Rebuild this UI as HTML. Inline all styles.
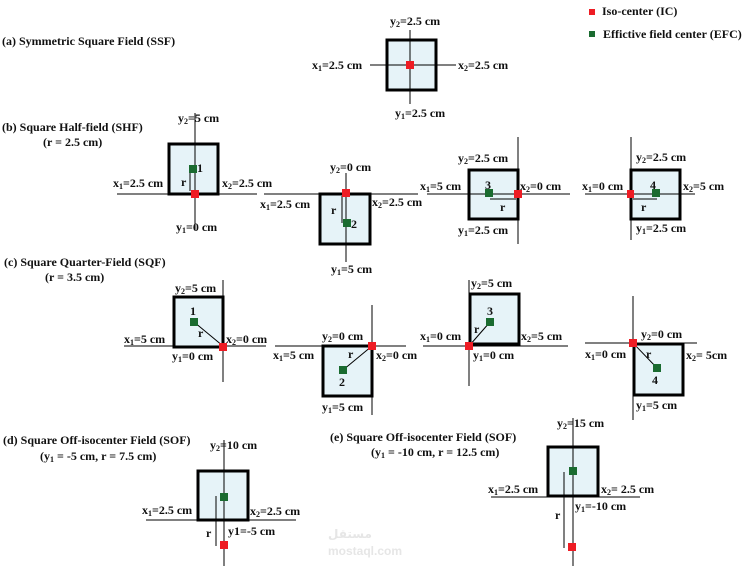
<!DOCTYPE html>
<html><head><meta charset="utf-8"><style>
html,body{margin:0;padding:0;background:#fff;}
svg{display:block;}
text{font-family:"Liberation Serif",serif;font-weight:bold;font-size:12px;fill:#111;}
.s{font-size:8px;}
.wm{font-family:"Liberation Sans","DejaVu Sans",sans-serif;fill:#e6e6e6;font-weight:bold;}
</style></head><body>
<svg width="747" height="571" viewBox="0 0 747 571" xmlns="http://www.w3.org/2000/svg">
<text x="328" y="538" class="wm" font-size="34">مستقل</text>
<text x="328" y="555" class="wm" font-size="13">mostaql.com</text>
<g fill="#e6f3f8" stroke="#000" stroke-width="3">
<rect x="387" y="40" width="49" height="50"/>
<rect x="169" y="144" width="49" height="50"/>
<rect x="320" y="194" width="50" height="50"/>
<rect x="469" y="170" width="49" height="49"/>
<rect x="631" y="170" width="49" height="49"/>
<rect x="174" y="297" width="49" height="50"/>
<rect x="323" y="346" width="49" height="50"/>
<rect x="470" y="294" width="49" height="50"/>
<rect x="634" y="344" width="49" height="51"/>
<rect x="198" y="471" width="50" height="49"/>
<rect x="548" y="447" width="50" height="49"/>
</g>
<g stroke="#000" stroke-width="1">
<line x1="370" y1="65" x2="456" y2="65"/><line x1="410" y1="30" x2="410" y2="104"/>
<line x1="117" y1="194" x2="257" y2="194"/><line x1="195" y1="113" x2="195" y2="230"/><line x1="190" y1="169" x2="190" y2="191"/>
<line x1="264" y1="194" x2="418" y2="194"/><line x1="346" y1="173" x2="346" y2="262"/><line x1="342" y1="196" x2="342" y2="223"/>
<line x1="427" y1="194" x2="570" y2="194"/><line x1="518" y1="137" x2="518" y2="244"/><line x1="490" y1="199" x2="516" y2="199"/>
<line x1="585" y1="194" x2="695" y2="194"/><line x1="631" y1="137" x2="631" y2="240"/><line x1="633" y1="199" x2="657" y2="199"/>
<line x1="124" y1="346" x2="266" y2="346"/><line x1="223" y1="280" x2="223" y2="382"/><line x1="194" y1="322" x2="223" y2="346"/>
<line x1="275" y1="346" x2="406" y2="346"/><line x1="372" y1="305" x2="372" y2="415"/><line x1="343" y1="370" x2="372" y2="346"/>
<line x1="423" y1="346" x2="568" y2="346"/><line x1="469" y1="280" x2="469" y2="386"/><line x1="469" y1="346" x2="490" y2="322"/>
<line x1="585" y1="343" x2="697" y2="343"/><line x1="633" y1="296" x2="633" y2="420"/><line x1="633" y1="343" x2="657" y2="368"/>
<line x1="146" y1="520" x2="296" y2="520"/><line x1="224" y1="440" x2="224" y2="566"/><line x1="216" y1="496" x2="216" y2="546"/>
<line x1="491" y1="497" x2="640" y2="497"/><line x1="573" y1="418" x2="573" y2="566"/><line x1="564" y1="472" x2="564" y2="548"/>
</g>
<g fill="#ee1c24">
<rect x="406" y="61" width="8" height="8"/>
<rect x="191" y="190" width="8" height="8"/>
<rect x="342" y="189" width="8" height="8"/>
<rect x="514" y="190" width="8" height="8"/>
<rect x="627" y="190" width="7" height="8"/>
<rect x="219" y="343" width="8" height="8"/>
<rect x="368" y="342" width="8" height="8"/>
<rect x="465" y="342" width="8" height="8"/>
<rect x="629" y="339" width="8" height="8"/>
<rect x="220" y="541" width="8" height="8"/>
<rect x="568" y="543" width="8" height="8"/>
<rect x="589" y="9" width="6" height="6"/>
</g>
<g fill="#1a6b30">
<rect x="189" y="165" width="8" height="8"/>
<rect x="343" y="219" width="8" height="8"/>
<rect x="485" y="189" width="8" height="8"/>
<rect x="652" y="189" width="8" height="8"/>
<rect x="190" y="318" width="8" height="8"/>
<rect x="339" y="366" width="8" height="8"/>
<rect x="486" y="318" width="8" height="8"/>
<rect x="653" y="364" width="8" height="8"/>
<rect x="220" y="493" width="8" height="8"/>
<rect x="569" y="467" width="8" height="8"/>
<rect x="589" y="31" width="6" height="6"/>
</g>

<text x="602" y="15">Iso-center (IC)</text>
<text x="603" y="38">Effictive field center (EFC)</text>
<text x="2" y="45">(a) Symmetric Square Field (SSF)</text>
<text x="2" y="131">(b) Square Half-field (SHF)</text>
<text x="43" y="146">(r = 2.5 cm)</text>
<text x="4" y="266">(c) Square Quarter-Field (SQF)</text>
<text x="45" y="281">(r = 3.5 cm)</text>
<text x="3" y="444">(d) Square Off-isocenter Field (SOF)</text>
<text x="40" y="460">(y<tspan class="s" dy="2">1</tspan><tspan dy="-2"> = -5 cm, r = 7.5 cm)</tspan></text>
<text x="330" y="441">(e) Square Off-isocenter Field (SOF)</text>
<text x="371" y="456">(y<tspan class="s" dy="2">1</tspan><tspan dy="-2"> = -10 cm, r = 12.5 cm)</tspan></text>

<text x="390" y="25">y<tspan class="s" dy="2">2</tspan><tspan dy="-2">=2.5 cm</tspan></text>
<text x="312" y="69">x<tspan class="s" dy="2">1</tspan><tspan dy="-2">=2.5 cm</tspan></text>
<text x="458" y="69">x<tspan class="s" dy="2">2</tspan><tspan dy="-2">=2.5 cm</tspan></text>
<text x="395" y="117">y<tspan class="s" dy="2">1</tspan><tspan dy="-2">=2.5 cm</tspan></text>

<text x="178" y="122">y<tspan class="s" dy="2">2</tspan><tspan dy="-2">=5 cm</tspan></text>
<text x="113" y="187">x<tspan class="s" dy="2">1</tspan><tspan dy="-2">=2.5 cm</tspan></text>
<text x="222" y="187">x<tspan class="s" dy="2">2</tspan><tspan dy="-2">=2.5 cm</tspan></text>
<text x="176" y="231">y<tspan class="s" dy="2">1</tspan><tspan dy="-2">=0 cm</tspan></text>
<text x="197" y="172">1</text><text x="181" y="186">r</text>

<text x="330" y="171">y<tspan class="s" dy="2">2</tspan><tspan dy="-2">=0 cm</tspan></text>
<text x="260" y="208">x<tspan class="s" dy="2">1</tspan><tspan dy="-2">=2.5 cm</tspan></text>
<text x="372" y="206">x<tspan class="s" dy="2">2</tspan><tspan dy="-2">=2.5 cm</tspan></text>
<text x="331" y="273">y<tspan class="s" dy="2">1</tspan><tspan dy="-2">=5 cm</tspan></text>
<text x="351" y="228">2</text><text x="331" y="214">r</text>

<text x="458" y="162">y<tspan class="s" dy="2">2</tspan><tspan dy="-2">=2.5 cm</tspan></text>
<text x="420" y="190">x<tspan class="s" dy="2">1</tspan><tspan dy="-2">=5 cm</tspan></text>
<text x="520" y="190">x<tspan class="s" dy="2">2</tspan><tspan dy="-2">=0 cm</tspan></text>
<text x="458" y="234">y<tspan class="s" dy="2">1</tspan><tspan dy="-2">=2.5 cm</tspan></text>
<text x="485" y="189">3</text><text x="500" y="211">r</text>

<text x="636" y="161">y<tspan class="s" dy="2">2</tspan><tspan dy="-2">=2.5 cm</tspan></text>
<text x="582" y="190">x<tspan class="s" dy="2">1</tspan><tspan dy="-2">=0 cm</tspan></text>
<text x="683" y="190">x<tspan class="s" dy="2">2</tspan><tspan dy="-2">=5 cm</tspan></text>
<text x="636" y="232">y<tspan class="s" dy="2">1</tspan><tspan dy="-2">=2.5 cm</tspan></text>
<text x="650" y="189">4</text><text x="641" y="211">r</text>

<text x="175" y="292">y<tspan class="s" dy="2">2</tspan><tspan dy="-2">=5 cm</tspan></text>
<text x="124" y="343">x<tspan class="s" dy="2">1</tspan><tspan dy="-2">=5 cm</tspan></text>
<text x="226" y="343">x<tspan class="s" dy="2">2</tspan><tspan dy="-2">=0 cm</tspan></text>
<text x="172" y="360">y<tspan class="s" dy="2">1</tspan><tspan dy="-2">=0 cm</tspan></text>
<text x="190" y="315">1</text><text x="198" y="337">r</text>

<text x="322" y="340">y<tspan class="s" dy="2">2</tspan><tspan dy="-2">=0 cm</tspan></text>
<text x="273" y="359">x<tspan class="s" dy="2">1</tspan><tspan dy="-2">=5 cm</tspan></text>
<text x="376" y="359">x<tspan class="s" dy="2">2</tspan><tspan dy="-2">=0 cm</tspan></text>
<text x="322" y="411">y<tspan class="s" dy="2">1</tspan><tspan dy="-2">=5 cm</tspan></text>
<text x="339" y="386">2</text><text x="348" y="358">r</text>

<text x="471" y="287">y<tspan class="s" dy="2">2</tspan><tspan dy="-2">=5 cm</tspan></text>
<text x="420" y="340">x<tspan class="s" dy="2">1</tspan><tspan dy="-2">=0 cm</tspan></text>
<text x="521" y="340">x<tspan class="s" dy="2">2</tspan><tspan dy="-2">=5 cm</tspan></text>
<text x="473" y="359">y<tspan class="s" dy="2">1</tspan><tspan dy="-2">=0 cm</tspan></text>
<text x="487" y="315">3</text><text x="474" y="333">r</text>

<text x="641" y="338">y<tspan class="s" dy="2">2</tspan><tspan dy="-2">=0 cm</tspan></text>
<text x="585" y="358">x<tspan class="s" dy="2">1</tspan><tspan dy="-2">=0 cm</tspan></text>
<text x="686" y="359">x<tspan class="s" dy="2">2</tspan><tspan dy="-2">= 5cm</tspan></text>
<text x="636" y="409">y<tspan class="s" dy="2">1</tspan><tspan dy="-2">=5 cm</tspan></text>
<text x="652" y="384">4</text><text x="646" y="358">r</text>

<text x="210" y="449">y<tspan class="s" dy="2">2</tspan><tspan dy="-2">=10 cm</tspan></text>
<text x="142" y="514">x<tspan class="s" dy="2">1</tspan><tspan dy="-2">=2.5 cm</tspan></text>
<text x="250" y="515">x<tspan class="s" dy="2">2</tspan><tspan dy="-2">=2.5 cm</tspan></text>
<text x="228" y="535">y1=-5 cm</text>
<text x="206" y="537">r</text>

<text x="557" y="427">y<tspan class="s" dy="2">2</tspan><tspan dy="-2">=15 cm</tspan></text>
<text x="488" y="493">x<tspan class="s" dy="2">1</tspan><tspan dy="-2">=2.5 cm</tspan></text>
<text x="601" y="493">x<tspan class="s" dy="2">2</tspan><tspan dy="-2">= 2.5 cm</tspan></text>
<text x="575" y="510">y<tspan class="s" dy="2">1</tspan><tspan dy="-2">=-10 cm</tspan></text>
<text x="555" y="519">r</text>
</svg>
</body></html>
